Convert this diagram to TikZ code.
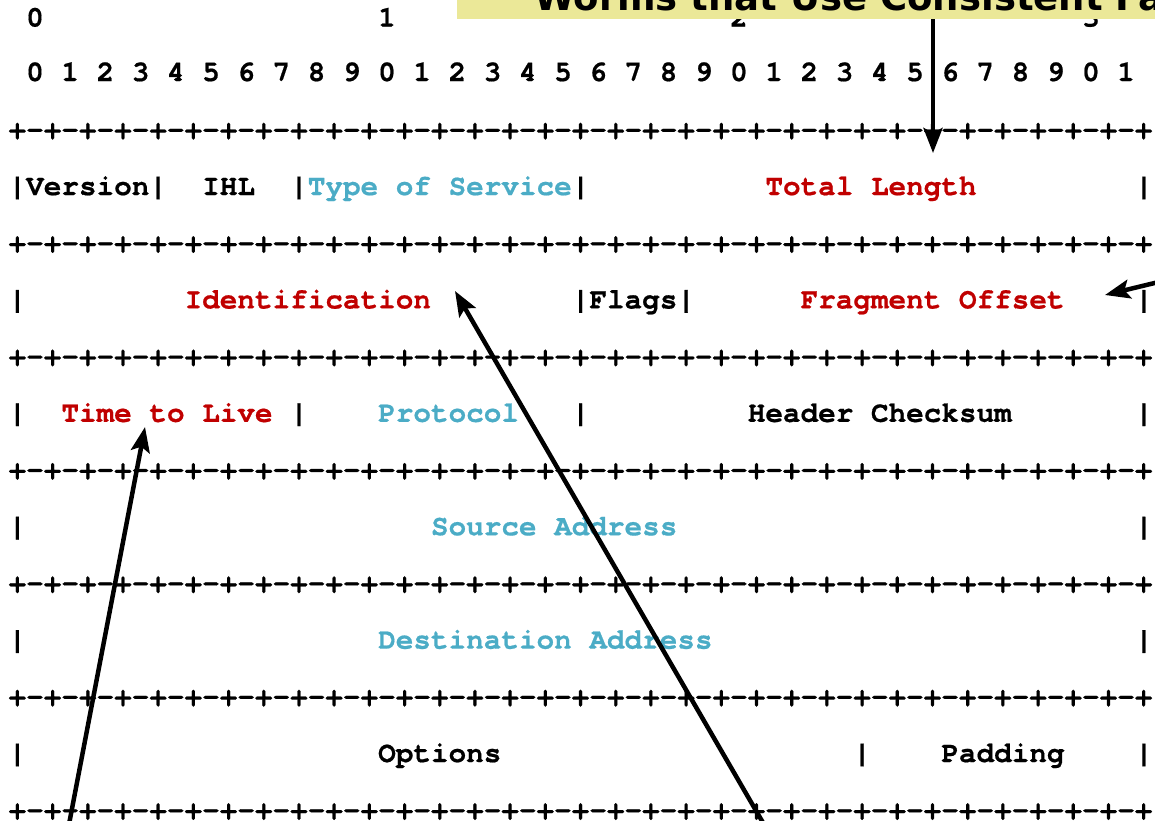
\documentclass[tikz,border=0pt]{standalone}
\usepackage{fontspec}
\usetikzlibrary{arrows.meta}
\newfontfamily\asciifont{texgyrecursor}[Extension=.otf,
  UprightFont=*-regular, BoldFont=*-bold,
  Ligatures=CommonOff, BoldFeatures={FakeBold=0.6}]
\newfontfamily\titlefont{DejaVu Sans}
\definecolor{fieldred}{RGB}{192,0,0}
\definecolor{fieldblue}{RGB}{75,172,198}
\definecolor{notefill}{RGB}{235,232,152}
% one "+-" run of eight bit cells
\newcommand\ruledash{+-+-+-+-+-+-+-+-}
% left edge of character column #1 (17.6pt pitch)
\newcommand\colx[1]{8.6+17.6*#1}

\begin{document}
\begin{tikzpicture}[x=1pt,y=-1pt,
  cell/.style={anchor=base west, inner sep=0pt, outer sep=0pt,
    font=\asciifont\bfseries\fontsize{29.33}{30}\selectfont},
  redcell/.style={cell, text=fieldred},
  bluecell/.style={cell, text=fieldblue},
  notebox/.style={fill=notefill, draw=none, inner sep=0pt, anchor=south west,
    minimum width=760pt, minimum height=80pt},
  notetext/.style={anchor=base west, inner sep=0pt,
    font=\titlefont\bfseries\fontsize{37}{40}\selectfont},
  pointer/.style={line width=4.5pt, line cap=butt,
    -{Stealth[length=25pt,width=19pt,inset=5pt]}}]
\useasboundingbox (0,0) rectangle (1155,820);
\clip (0,0) rectangle (1155,820);

% bit numbering
\node[cell] (d0) at ({\colx{1}},26.5) {0};
\node[cell] (d1) at ({\colx{21}},26.5) {1};
\node[cell] (d2) at ({\colx{41}},26.5) {2};
\node[cell] (d3) at ({\colx{61}},26.5) {3};
\node[cell] (bits) at ({\colx{1}},81)
  {0 1 2 3 4 5 6 7 8 9 0 1 2 3 4 5 6 7 8 9 0 1 2 3 4 5 6 7 8 9 0 1};

% separator rules
\foreach \k in {0,...,6}
  \node[cell] (rule\k) at ({\colx{0}},{138.5+113.4*\k})
    {\ruledash\ruledash\ruledash\ruledash+};

% row 1
\node[cell] (r1a) at ({\colx{0}},195) {|Version|};
\node[cell] (ihl) at ({\colx{11}},195) {IHL};
\node[cell] (r1b) at ({\colx{16}},195) {|};
\node[bluecell] (tos) at ({\colx{17}},195) {Type of Service};
\node[cell] (r1c) at ({\colx{32}},195) {|};
\node[redcell] (tl) at ({\colx{43}},195) {Total Length};
\node[cell] (r1d) at ({\colx{64}},195) {|};

% row 2
\node[cell] (r2a) at ({\colx{0}},308.4) {|};
\node[redcell] (id) at ({\colx{10}},308.4) {Identification};
\node[cell] (flags) at ({\colx{32}},308.4) {|Flags|};
\node[redcell] (fo) at ({\colx{45}},308.4) {Fragment Offset};
\node[cell] (r2b) at ({\colx{64}},308.4) {|};

% row 3
\node[cell] (r3a) at ({\colx{0}},421.8) {|};
\node[redcell] (ttl) at ({\colx{3}},421.8) {Time to Live};
\node[cell] (r3b) at ({\colx{16}},421.8) {|};
\node[bluecell] (proto) at ({\colx{21}},421.8) {Protocol};
\node[cell] (r3c) at ({\colx{32}},421.8) {|};
\node[cell] (hcs) at ({\colx{42}},421.8) {Header Checksum};
\node[cell] (r3d) at ({\colx{64}},421.8) {|};

% row 4
\node[cell] (r4a) at ({\colx{0}},535.2) {|};
\node[bluecell] (src) at ({\colx{24}},535.2) {Source Address};
\node[cell] (r4b) at ({\colx{64}},535.2) {|};

% row 5
\node[cell] (r5a) at ({\colx{0}},648.6) {|};
\node[bluecell] (dst) at ({\colx{21}},648.6) {Destination Address};
\node[cell] (r5b) at ({\colx{64}},648.6) {|};

% row 6
\node[cell] (r6a) at ({\colx{0}},762) {|};
\node[cell] (opt) at ({\colx{21}},762) {Options};
\node[cell] (r6b) at ({\colx{48}},762) {|};
\node[cell] (pad) at ({\colx{53}},762) {Padding};
\node[cell] (r6c) at ({\colx{64}},762) {|};

% title banner
\node[notebox] (note) at (457,19) {};
\node[notetext] (title) at (534,10) {Worms that Use Consistent Fa};

% pointers
\coordinate (tlTip) at (933,153);
\coordinate (foTip) at (1105,295);
\coordinate (foTail) at (1200,272);
\coordinate (idTip) at (455,291);
\coordinate (idTail) at (773,840);
\coordinate (ttlTip) at (145,427);
\coordinate (ttlTail) at (66,840);

\draw[pointer] (note.south -| tlTip) -- (tlTip);
\draw[pointer] (foTail) -- (foTip);
\draw[pointer] (idTail) -- (idTip);
\draw[pointer] (ttlTail) -- (ttlTip);
\end{tikzpicture}
\end{document}
